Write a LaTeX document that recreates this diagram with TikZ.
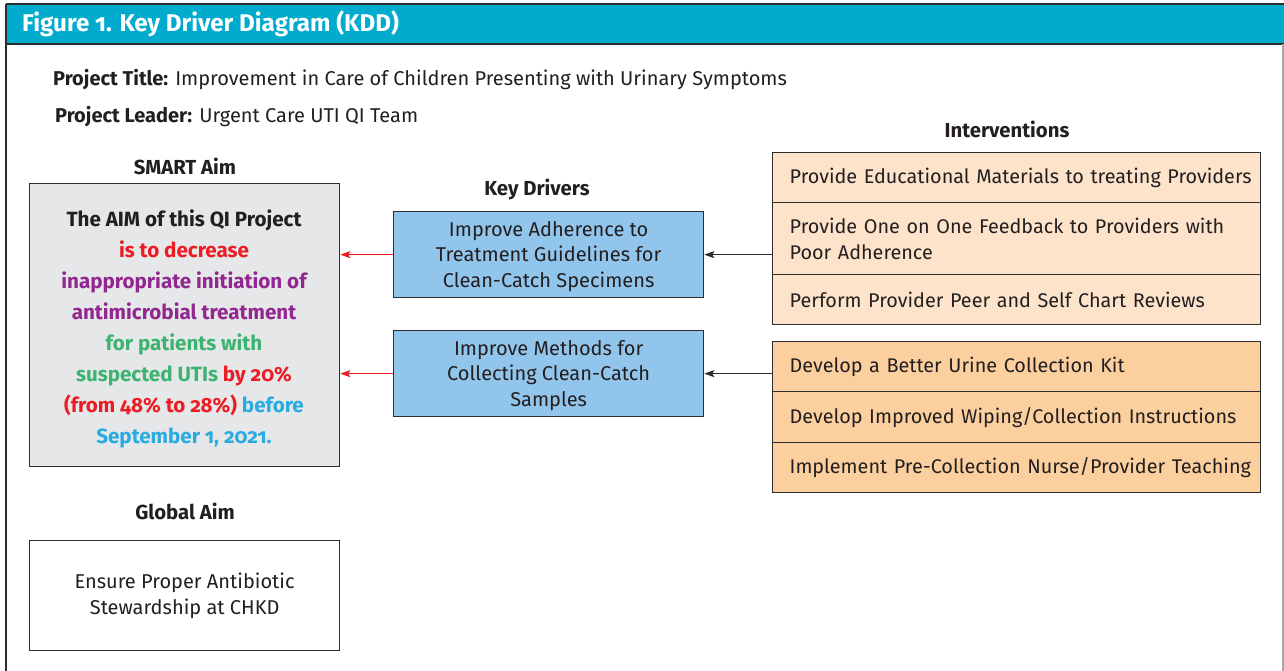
\documentclass[tikz,border=0pt]{standalone}
\usepackage{fontspec}
\setmainfont{Fira Sans}[Numbers=OldStyle]
\usetikzlibrary{arrows.meta}
\definecolor{band}{RGB}{0,171,206}
\definecolor{frame}{RGB}{45,45,45}
\definecolor{aimgray}{RGB}{230,231,232}
\definecolor{kdblue}{RGB}{146,197,236}
\definecolor{peachA}{RGB}{253,227,202}
\definecolor{peachB}{RGB}{251,207,158}
\definecolor{aimred}{RGB}{237,28,36}
\definecolor{aimpurple}{RGB}{146,39,143}
\definecolor{aimgreen}{RGB}{60,179,113}
\definecolor{aimblue}{RGB}{41,171,226}
\definecolor{txt}{RGB}{35,31,32}
\tikzset{
  box/.style={draw=frame, line width=1.3pt, rectangle, anchor=north west, inner sep=0pt, text=txt},
  heading/.style={font=\fontsize{20.3}{24}\selectfont\bfseries, text=txt, inner sep=0pt},
  bodytxt/.style={font=\fontsize{20}{25.5}\selectfont, text=txt},
  introw/.style={box, minimum width=488pt, align=left, text width=488pt, inner xsep=0pt, font=\fontsize{19.8}{26}\selectfont},
  redarrow/.style={draw=aimred, line width=1pt, -{Stealth[length=10pt,width=7pt,inset=2pt]}},
  blackarrow/.style={draw=frame, line width=1pt, -{Stealth[length=10pt,width=7pt,inset=2pt]}}
}
\begin{document}
\begin{tikzpicture}[x=1pt,y=-1pt]
\useasboundingbox (0,0) rectangle (1284,671);
\fill[white] (0,0) rectangle (1284,671);
\fill[band] (6,4) rectangle (1284,44);
\draw[frame, line width=1.5pt] (6,4) -- (1284,4);
\draw[frame, line width=1.5pt] (6,44) -- (1284,44);
\draw[frame, line width=1.5pt] (6,4) -- (6,671);
\draw[gray!70, line width=1.5pt] (1283,44) -- (1283,671);
\node[anchor=west, text=white, font=\fontsize{24.2}{28}\selectfont\bfseries, inner sep=0pt] (fig) at (22,24) {Figure 1. Key Driver Diagram (KDD)};

\node[anchor=west, inner sep=0pt, font=\fontsize{20}{24}\selectfont, text=txt] (ptitle) at (53,80) {\textbf{Project Title:} Improvement in Care of Children Presenting with Urinary Symptoms};
\node[anchor=west, inner sep=0pt, font=\fontsize{20}{24}\selectfont, text=txt] (pleader) at (55,117) {\textbf{Project Leader:} Urgent Care UTI QI Team};

\node[heading] (smart) at (185,166) {SMART Aim};
\node[box, fill=aimgray, minimum width=310pt, minimum height=283pt] (aim) at (29,183) {};
\node[align=center, font=\fontsize{20.6}{31}\selectfont\bfseries, text=txt, anchor=center] (aimtxt) at (184,329) {%
The AIM of this QI Project\\
\textcolor{aimred}{is to decrease}\\
\textcolor{aimpurple}{inappropriate initiation of}\\
\textcolor{aimpurple}{antimicrobial treatment}\\
\textcolor{aimgreen}{for patients with}\\
\textcolor{aimgreen}{suspected UTIs} \textcolor{aimred}{by 20\%}\\
\textcolor{aimred}{(from 48\% to 28\%)} \textcolor{aimblue}{before}\\
\textcolor{aimblue}{September 1, 2021.}};

\node[heading] (global) at (185,511) {Global Aim};
\node[box, fill=white, minimum width=310pt, minimum height=110pt] (gaim) at (29,540) {};
\node[bodytxt, align=center] (gtxt) at (gaim.center) {Ensure Proper Antibiotic\\Stewardship at CHKD};

\node[heading] (kdh) at (537,190) {Key Drivers};
\node[box, fill=kdblue, minimum width=310pt, minimum height=86pt] (kd1) at (393,211) {};
\node[bodytxt, align=center] (kd1t) at ([yshift=-1.5pt]kd1.center) {Improve Adherence to\\Treatment Guidelines for\\Clean-Catch Specimens};
\node[box, fill=kdblue, minimum width=310pt, minimum height=86pt] (kd2) at (393,330) {};
\node[bodytxt, align=center] (kd2t) at ([yshift=-1.5pt]kd2.center) {Improve Methods for\\Collecting Clean-Catch\\Samples};

\node[heading] (inth) at (1007,129) {Interventions};
\node[introw, fill=peachA, minimum height=50pt] (i11) at (772,152) {\hspace*{17pt}Provide Educational Materials to treating Providers};
\node[introw, fill=peachA, minimum height=72pt] (i12) at (772,202) {\hspace*{17pt}Provide One on One Feedback to Providers with\\\hspace*{17pt}Poor Adherence};
\node[introw, fill=peachA, minimum height=50pt] (i13) at (772,274) {\hspace*{17pt}Perform Provider Peer and Self Chart Reviews};
\node[introw, fill=peachB, minimum height=50pt] (i21) at (772,341) {\hspace*{17pt}Develop a Better Urine Collection Kit};
\node[introw, fill=peachB, minimum height=51pt] (i22) at (772,391) {\hspace*{17pt}Develop Improved Wiping/Collection Instructions};
\node[introw, fill=peachB, minimum height=50pt] (i23) at (772,442) {\hspace*{17pt}Implement Pre-Collection Nurse/Provider Teaching};

\draw[blackarrow] (i12.west |- kd1.east) -- (kd1.east);
\draw[blackarrow] (i21.west |- kd2.east) -- (kd2.east);
\draw[redarrow] (kd1.west) -- (aim.east |- kd1.west);
\draw[redarrow] (kd2.west) -- (aim.east |- kd2.west);
\end{tikzpicture}
\end{document}
